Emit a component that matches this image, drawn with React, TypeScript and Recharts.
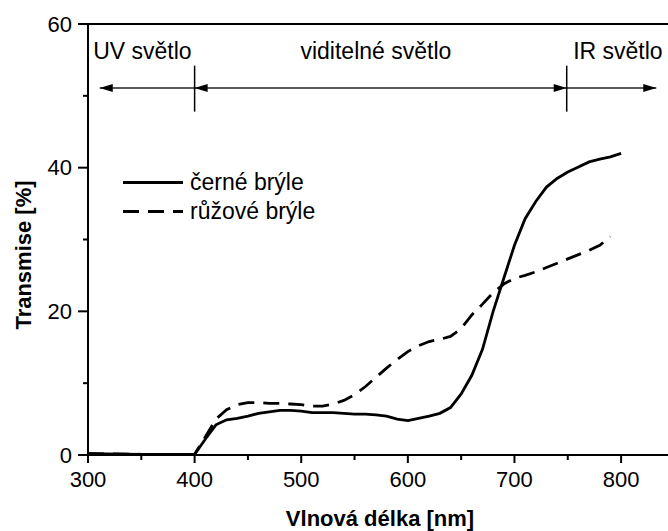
import React from 'react';
import {
  LineChart,
  Line,
  XAxis,
  YAxis,
  ReferenceLine,
  ReferenceDot,
} from 'recharts';

const wavelength = [
  300, 350, 400, 410, 420, 430, 440, 450, 460, 470, 480, 490, 500, 510, 520, 530, 540, 550,
  560, 570, 580, 590, 600, 610, 620, 630, 640, 650, 660, 670, 680, 690, 700, 710, 720, 730,
  740, 750, 760, 770, 780, 790, 800,
];

// černé brýle
const blackGlasses = [
  0.2, 0.1, 0.1, 2.2, 4.2, 4.9, 5.1, 5.4, 5.8, 6.0, 6.2, 6.2, 6.1, 5.9, 5.9, 5.9, 5.8, 5.7,
  5.7, 5.6, 5.4, 5.0, 4.8, 5.1, 5.4, 5.8, 6.6, 8.5, 11.1, 14.7, 20.0, 24.6, 29.2, 32.9, 35.3,
  37.3, 38.5, 39.4, 40.1, 40.8, 41.2, 41.5, 42.0,
];

// růžové brýle
const pinkGlasses = [
  0.2, 0.1, 0.1, 2.5, 5.0, 6.3, 7.0, 7.3, 7.3, 7.2, 7.2, 7.1, 7.0, 6.8, 6.8, 7.1, 7.6, 8.4,
  9.5, 10.8, 12.1, 13.3, 14.4, 15.2, 15.8, 16.1, 16.5, 17.6, 19.5, 21.0, 22.6, 23.8, 24.6,
  25.0, 25.5, 26.1, 26.7, 27.3, 27.9, 28.5, 29.2, 30.4, null,
];

const xTicks = [300, 350, 400, 450, 500, 550, 600, 650, 700, 750, 800];
const yTicks = [0, 10, 20, 30, 40, 50, 60];

const regions = [
  { name: 'UV světlo', x: 351 },
  { name: 'viditelné světlo', x: 570 },
  { name: 'IR světlo', x: 797 },
];

const data = wavelength.map((w, i) => ({
  w,
  black: blackGlasses[i],
  pink: pinkGlasses[i],
}));

const FONT = '"Liberation Sans", Arial, sans-serif';
const ARROW_Y = 51.1;
const DASH = '16 9';

const XTick = ({ x, y, payload }: any) => {
  const major = payload.value % 100 === 0;
  return (
    <g>
      <line x1={x} y1={y} x2={x} y2={y + (major ? 8 : 5)} stroke="#000" strokeWidth={2} />
      {major && (
        <text x={x} y={y + 32} textAnchor="middle" fontSize={22} fontFamily={FONT} fill="#000">
          {payload.value}
        </text>
      )}
    </g>
  );
};

const YTick = ({ x, y, payload }: any) => {
  const major = payload.value % 20 === 0;
  return (
    <g>
      <line x1={x} y1={y} x2={x - (major ? 10 : 5)} y2={y} stroke="#000" strokeWidth={2} />
      {major && (
        <text x={x - 16} y={y + 7.5} textAnchor="end" fontSize={22} fontFamily={FONT} fill="#000">
          {payload.value}
        </text>
      )}
    </g>
  );
};

const Arrow = ({ x1, y1, x2, y2, headStart, headEnd }: any) => {
  const len = 13;
  const half = 4;
  return (
    <g>
      <line x1={x1} y1={y1} x2={x2} y2={y2} stroke="#222" strokeWidth={1.5} />
      {headStart && (
        <polygon points={`${x1},${y1} ${x1 + len},${y1 - half} ${x1 + len},${y1 + half}`} fill="#000" />
      )}
      {headEnd && (
        <polygon points={`${x2},${y2} ${x2 - len},${y2 - half} ${x2 - len},${y2 + half}`} fill="#000" />
      )}
    </g>
  );
};

const LegendBox = () => (
  <div style={{ position: 'absolute', left: 123, top: 167.5, fontFamily: FONT, fontSize: 23, color: '#000' }}>
    {[
      { label: 'černé brýle', dash: undefined },
      { label: 'růžové brýle', dash: DASH },
    ].map((item) => (
      <div key={item.label} style={{ display: 'flex', alignItems: 'center', height: 29 }}>
        <svg width={60} height={29}>
          <line x1={0} y1={14.5} x2={60} y2={14.5} stroke="#000" strokeWidth={2.8} strokeDasharray={item.dash} />
        </svg>
        <span style={{ marginLeft: 7, lineHeight: '29px', whiteSpace: 'nowrap' }}>{item.label}</span>
      </div>
    ))}
  </div>
);

export default function App() {
  return (
    <div
      style={{
        position: 'absolute',
        left: 0,
        top: 0,
        width: 668,
        height: 531,
        background: '#fff',
        fontFamily: FONT,
        overflow: 'hidden',
      }}
    >
      <LineChart width={668} height={531} data={data} margin={{ top: 24, right: 0, bottom: 30, left: 28 }}>
        <XAxis
          dataKey="w"
          type="number"
          domain={[300, 844]}
          ticks={xTicks}
          allowDataOverflow
          interval={0}
          height={46}
          tickSize={0}
          tickMargin={0}
          tickLine={false}
          tick={<XTick />}
          axisLine={{ stroke: '#000', strokeWidth: 2 }}
        />
        <YAxis
          type="number"
          domain={[0, 60]}
          ticks={yTicks}
          interval={0}
          width={60}
          tickSize={0}
          tickMargin={0}
          tickLine={false}
          tick={<YTick />}
          axisLine={{ stroke: '#000', strokeWidth: 2 }}
        />
        <ReferenceLine y={60} stroke="#000" strokeWidth={2} />

        <ReferenceLine
          segment={[{ x: 311, y: ARROW_Y }, { x: 400, y: ARROW_Y }]}
          shape={(p: any) => <Arrow {...p} headStart />}
        />
        <ReferenceLine
          segment={[{ x: 400, y: ARROW_Y }, { x: 749, y: ARROW_Y }]}
          shape={(p: any) => <Arrow {...p} headStart headEnd />}
        />
        <ReferenceLine
          segment={[{ x: 749, y: ARROW_Y }, { x: 833, y: ARROW_Y }]}
          shape={(p: any) => <Arrow {...p} headEnd />}
        />
        <ReferenceLine segment={[{ x: 400, y: 47.8 }, { x: 400, y: 54.2 }]} stroke="#000" strokeWidth={1.5} />
        <ReferenceLine segment={[{ x: 749, y: 47.8 }, { x: 749, y: 54.2 }]} stroke="#000" strokeWidth={1.5} />

        {regions.map((r) => (
          <ReferenceDot
            key={r.name}
            x={r.x}
            y={56.3}
            r={0}
            fill="none"
            stroke="none"
            label={{ value: r.name, position: 'center', fontSize: 23, fill: '#000', fontFamily: FONT }}
          />
        ))}

        <Line
          type="linear"
          dataKey="pink"
          name="růžové brýle"
          stroke="#000"
          strokeWidth={2.8}
          strokeDasharray={DASH}
          dot={false}
          isAnimationActive={false}
        />
        <Line
          type="linear"
          dataKey="black"
          name="černé brýle"
          stroke="#000"
          strokeWidth={2.8}
          dot={false}
          isAnimationActive={false}
        />
      </LineChart>

      <LegendBox />

      <div
        style={{
          position: 'absolute',
          left: 380,
          top: 519,
          transform: 'translate(-50%, -50%)',
          fontWeight: 'bold',
          fontSize: 22,
          lineHeight: 1,
          whiteSpace: 'nowrap',
        }}
      >
        Vlnová délka [nm]
      </div>
      <div
        style={{
          position: 'absolute',
          left: 24,
          top: 255,
          transform: 'translate(-50%, -50%) rotate(-90deg)',
          fontWeight: 'bold',
          fontSize: 22,
          lineHeight: 1,
          whiteSpace: 'nowrap',
        }}
      >
        Transmise [%]
      </div>
    </div>
  );
}
